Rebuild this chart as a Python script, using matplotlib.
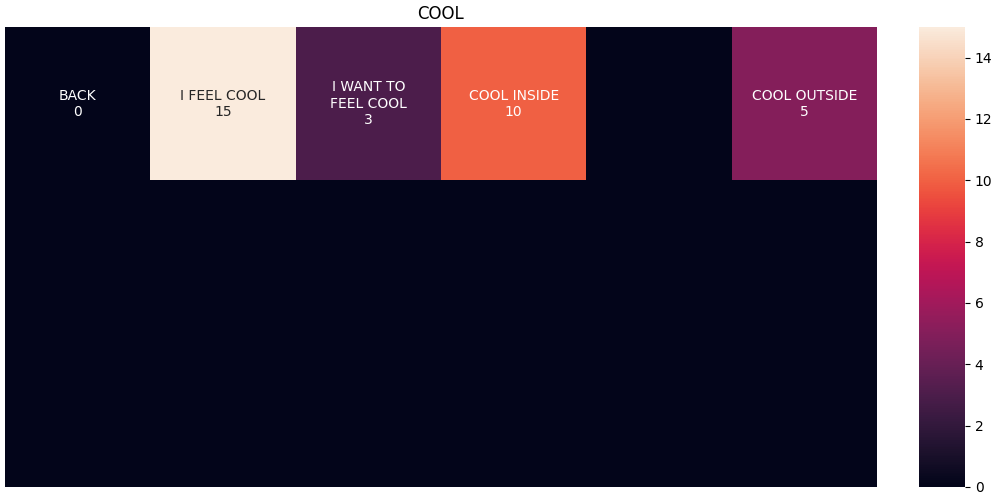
import numpy as np
import matplotlib
matplotlib.use("Agg")
import matplotlib.pyplot as plt
import seaborn as sns

names = ["BACK", "I FEEL COOL", "I WANT TO\nFEEL COOL", "COOL INSIDE", "", "COOL OUTSIDE"]
counts = [0, 15, 3, 10, 0, 5]
show_count = [True, True, True, True, False, True]
n_rows = 3

values = np.zeros((n_rows, len(counts)))
values[0] = counts
labels = np.full((n_rows, len(counts)), "", dtype=object)
for i, (name, c, show) in enumerate(zip(names, counts, show_count)):
    if show:
        labels[0, i] = f"{name}\n{c}"

fig = plt.figure(figsize=(10, 5), dpi=100)
ax = fig.add_axes([0.005, 0.026, 0.872, 0.920])
cax = fig.add_axes([0.919, 0.026, 0.046, 0.920])
sns.heatmap(values, annot=labels, fmt="", xticklabels=False, yticklabels=False,
            ax=ax, cbar_ax=cax)
ax.set_title("COOL")
plt.savefig("out.png")
